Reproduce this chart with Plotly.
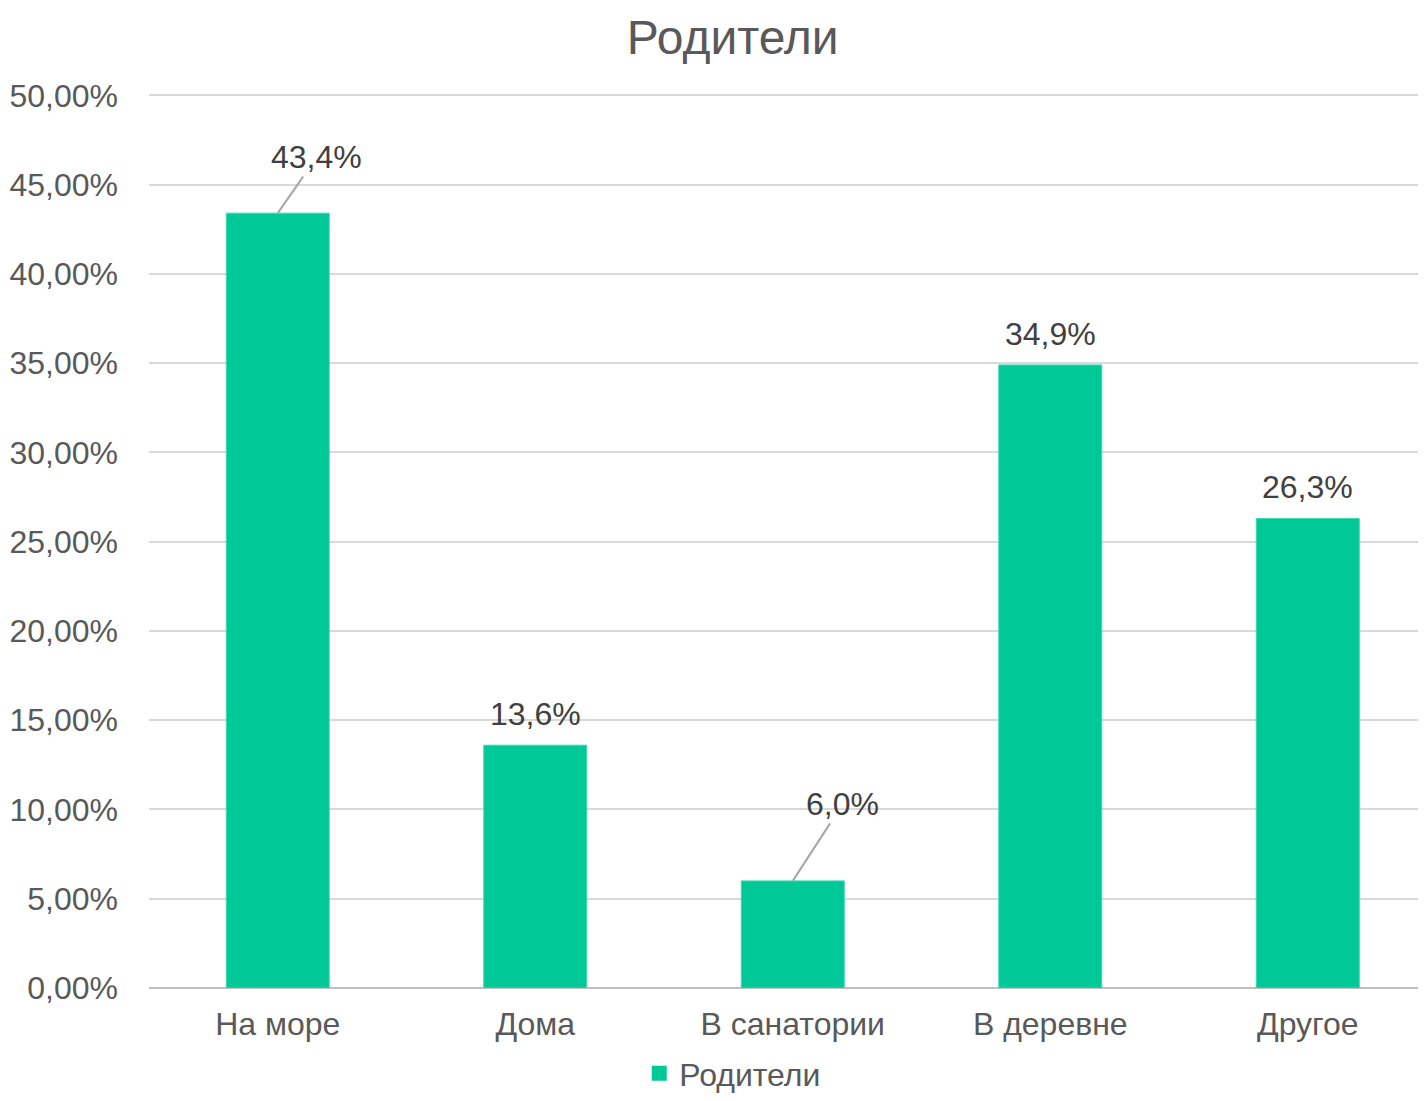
import plotly.graph_objects as go

categories = ["На море", "Дома", "В санатории", "В деревне", "Другое"]
values = [0.434, 0.136, 0.060, 0.349, 0.263]
series_name = "Родители"
y_ticks = [0, 0.05, 0.10, 0.15, 0.20, 0.25, 0.30, 0.35, 0.40, 0.45, 0.50]

# leader-line offsets (pixels) for the labels that were moved off the bar
label_offsets = {0: (39, -56), 2: (50, -77)}

FONT = "Liberation Sans, Arial, sans-serif"
GREY = "#595959"
BAR = "#00C997"

fig = go.Figure()
fig.add_trace(go.Bar(
    x=categories,
    y=values,
    name=series_name,
    marker=dict(color=BAR, line=dict(color="#3fd9b0", width=1)),
    width=0.4,
    showlegend=False,
))
# legend entry with a bigger square symbol
fig.add_trace(go.Scatter(
    x=[None], y=[None], mode="markers", name=series_name,
    marker=dict(symbol="square", size=15, color=BAR),
    showlegend=True,
))

for i, (cat, val) in enumerate(zip(categories, values)):
    txt = "{:.1f}%".format(val * 100).replace(".", ",")
    if i in label_offsets:
        ax, ay = label_offsets[i]
        fig.add_annotation(x=cat, y=val, text=txt, showarrow=True, arrowhead=0,
                           arrowwidth=2, arrowcolor="#a6a6a6", ax=ax, ay=ay,
                           standoff=0, startstandoff=0,
                           font=dict(size=32, color="#404040", family=FONT))
    else:
        fig.add_annotation(x=cat, y=val, text=txt, showarrow=False,
                           yanchor="bottom", yshift=11,
                           font=dict(size=32, color="#404040", family=FONT))

# page body adds an 8px margin around the figure
fig.update_layout(
    width=1410, height=1093,
    paper_bgcolor="white", plot_bgcolor="white",
    separators=", ",
    font=dict(family=FONT, color=GREY, size=32),
    title=dict(text="Родители", x=0.514, xanchor="center", y=0.9735, yanchor="middle",
               font=dict(size=48, color=GREY, family=FONT)),
    margin=dict(l=141, r=0, t=82, b=113),
    legend=dict(orientation="h", x=0.460, xanchor="center",
                yref="container", y=0.0, yanchor="bottom",
                font=dict(size=32, color=GREY), itemwidth=30),
    xaxis=dict(showgrid=False, ticks="", tickfont=dict(size=32, color=GREY),
               showline=False, ticklabelstandoff=14, range=[-0.5, 4.428]),
    yaxis=dict(range=[0, 0.503], tickvals=y_ticks, tickformat=".2%",
               showgrid=True, gridcolor="#d9d9d9", gridwidth=2,
               zeroline=True, zerolinecolor="#bfbfbf", zerolinewidth=2,
               ticks="", ticklabelstandoff=30,
               tickfont=dict(size=32, color=GREY)),
)

fig.write_html("out.html")
